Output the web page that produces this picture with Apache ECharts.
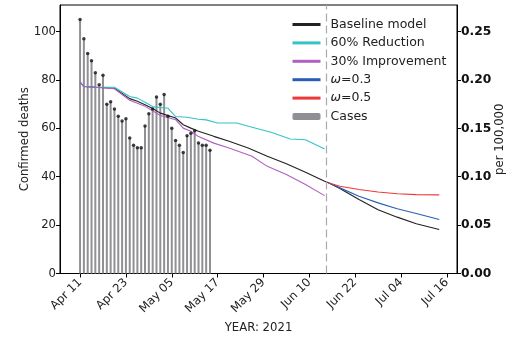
<!DOCTYPE html>
<html><head><meta charset="utf-8">
<script src="https://cdn.jsdelivr.net/npm/echarts@6/dist/echarts.min.js"></script>
<style>html,body{margin:0;padding:0;background:#fff}#c{width:523px;height:339px}</style>
</head><body><div id="c"></div>
<script>
// ---- data ----
const caseDates = ['2021-04-11','2021-04-12','2021-04-13','2021-04-14','2021-04-15','2021-04-16','2021-04-17',
  '2021-04-18','2021-04-19','2021-04-20','2021-04-21','2021-04-22','2021-04-23','2021-04-24','2021-04-25',
  '2021-04-26','2021-04-27','2021-04-28','2021-04-29','2021-04-30','2021-05-01','2021-05-02','2021-05-03',
  '2021-05-04','2021-05-05','2021-05-06','2021-05-07','2021-05-08','2021-05-09','2021-05-10','2021-05-11',
  '2021-05-12','2021-05-13','2021-05-14','2021-05-15'];
const caseValues = [105, 97, 91, 88, 83, 78, 82, 70, 71, 68, 65, 63, 64, 56, 53, 52, 52, 61, 66, 68,
  73, 70, 74, 65, 60, 55, 53, 50, 57, 58, 59, 54, 53, 53, 51];

const baselineDates = ['2021-04-11','2021-04-12','2021-04-15','2021-04-20','2021-04-24','2021-04-26','2021-04-28',
  '2021-04-30','2021-05-02','2021-05-06','2021-05-08','2021-05-10','2021-05-12','2021-05-16','2021-05-20',
  '2021-05-25','2021-05-30','2021-06-04','2021-06-09','2021-06-14','2021-06-15','2021-06-18','2021-06-23',
  '2021-06-28','2021-07-03','2021-07-08','2021-07-14'];
const baselineValues = [79.1, 77.3, 77.0, 76.6, 72.3, 71.2, 69.8, 68.2, 66.3, 64.3, 61.5, 60.1, 58.8, 56.7, 54.7,
  51.9, 48.5, 45.4, 41.9, 38.1, 37.5, 35.1, 30.6, 26.4, 23.3, 20.6, 18.2];

const reductionDates = ['2021-04-11','2021-04-12','2021-04-15','2021-04-20','2021-04-24','2021-04-26','2021-04-28',
  '2021-04-30','2021-05-03','2021-05-04','2021-05-06','2021-05-09','2021-05-12','2021-05-14','2021-05-17',
  '2021-05-22','2021-05-26','2021-05-31','2021-06-05','2021-06-09','2021-06-14'];
const reductionValues = [79.1, 77.3, 77.0, 77.0, 73.2, 72.5, 70.8, 69.0, 68.4, 68.4, 64.9, 64.6, 63.8, 63.5, 62.2,
  62.2, 60.5, 58.4, 55.6, 55.3, 51.5];

const improvementDates = ['2021-04-11','2021-04-12','2021-04-15','2021-04-20','2021-04-24','2021-04-28','2021-04-30',
  '2021-05-02','2021-05-06','2021-05-08','2021-05-10','2021-05-12','2021-05-16','2021-05-20','2021-05-26',
  '2021-05-30','2021-06-04','2021-06-09','2021-06-14'];
const improvementValues = [79.1, 77.3, 77.0, 76.4, 71.6, 69.1, 67.3, 65.3, 63.6, 60.1, 58.8, 56.6, 53.9, 51.9, 48.5,
  44.3, 40.9, 36.8, 32.2];

const omegaDates = ['2021-06-15','2021-06-18','2021-06-23','2021-06-28','2021-07-03','2021-07-08','2021-07-14'];
const omega03Values = [37.5, 35.4, 31.9, 29.2, 26.8, 24.8, 22.3];
const omega05Values = [37.5, 36.1, 34.7, 33.7, 33.0, 32.6, 32.5];

const xTickDates = ['2021-04-11','2021-04-23','2021-05-05','2021-05-17','2021-05-29','2021-06-10',
  '2021-06-22','2021-07-04','2021-07-16'];
const leftTicks = [0, 20, 40, 60, 80, 100];
const rightTicks = [0, 0.05, 0.10, 0.15, 0.20, 0.25];
const splitDate = '2021-06-14T12:00:00';
const perPopFactor = 400; // deaths per (per 100,000)
const legendNames = ['Baseline model', '60% Reduction', '30% Improvement', 'ω=0.3', 'ω=0.5', 'Cases'];

// ---- helpers ----
const DAY = 86400000;
const ts = s => Date.parse(s.length === 10 ? s + 'T00:00:00Z' : s + 'Z');
const pairs = (d, v) => d.map((s, i) => [ts(s), v[i]]);
const MON = ['Jan','Feb','Mar','Apr','May','Jun','Jul','Aug','Sep','Oct','Nov','Dec'];
const fmtDate = v => { const d = new Date(v); return MON[d.getUTCMonth()] + ' ' + String(d.getUTCDate()).padStart(2, '0'); };

const FONT = 'DejaVu Sans';
const yMax = 111;
const xMin = ts('2021-04-11') - 5.25 * DAY;
const xMax = ts('2021-07-16') + 2.65 * DAY;

const lineSeries = (name, d, v, color) => ({
  name, type: 'line', data: pairs(d, v), symbol: 'none', showSymbol: false,
  lineStyle: { color, width: 1.1 }, itemStyle: { color }, z: 3, silent: true
});

const chart = echarts.init(document.getElementById('c'), null, { renderer: 'canvas' });
chart.setOption({
  animation: false,
  backgroundColor: '#fff',
  textStyle: { fontFamily: FONT },
  grid: { left: 60, right: 66, top: 5, bottom: 65, show: true, borderColor: '#000', borderWidth: 1, backgroundColor: 'transparent' },
  xAxis: {
    type: 'value', min: xMin, max: xMax,
    name: 'YEAR: 2021', nameLocation: 'middle', nameGap: 45,
    nameTextStyle: { fontSize: 11.7, color: '#222', fontFamily: FONT },
    axisLine: { show: true, lineStyle: { color: '#000', width: 1 } },
    axisTick: { show: true, length: 4, lineStyle: { color: '#000' }, customValues: xTickDates.map(ts) },
    axisLabel: { customValues: xTickDates.map(ts), formatter: fmtDate, rotate: 45, fontSize: 11.7, color: '#222', margin: 7, fontFamily: FONT },
    splitLine: { show: false }
  },
  yAxis: [{
    type: 'value', min: 0, max: yMax, position: 'left',
    name: 'Confirmed deaths', nameLocation: 'middle', nameGap: 29, nameMoveOverlap: false,
    nameTextStyle: { fontSize: 11.7, color: '#222', fontFamily: FONT },
    axisLine: { show: true, lineStyle: { color: '#000' } },
    axisTick: { show: true, length: 4, lineStyle: { color: '#000' }, customValues: leftTicks },
    axisLabel: { customValues: leftTicks, fontSize: 11.7, color: '#222', margin: 4, fontFamily: FONT },
    splitLine: { show: false }
  }, {
    type: 'value', min: 0, max: yMax / perPopFactor, position: 'right',
    name: 'per 100,000', nameLocation: 'middle', nameGap: 37, nameRotate: 90, nameMoveOverlap: false,
    nameTextStyle: { fontSize: 11.7, color: '#222', fontFamily: FONT },
    axisLine: { show: true, lineStyle: { color: '#000' } },
    axisTick: { show: true, length: 4, lineStyle: { color: '#000' }, customValues: rightTicks },
    axisLabel: { customValues: rightTicks, formatter: v => v.toFixed(2), fontSize: 12.3, fontWeight: 'bold', color: '#111', margin: 4, fontFamily: FONT },
    splitLine: { show: false }
  }],
  legend: {
    orient: 'vertical', left: 287, top: 14, padding: [4, 4, 4, 4],
    backgroundColor: 'rgba(255,255,255,0.8)',
    itemWidth: 28, itemHeight: 7, itemGap: 5.4,
    lineStyle: { width: 3 },
    data: legendNames.map(n => n === 'Cases' ? { name: n } : { name: n, itemStyle: { opacity: 0 } }),
    formatter: n => n.startsWith('ω') ? '{i|ω}' + n.slice(1) : n,
    textStyle: { fontSize: 12.5, color: '#222', fontFamily: FONT, lineHeight: 13, padding: [0, 0, 0, 5],
      rich: { i: { fontStyle: 'italic', fontSize: 12.5, fontFamily: FONT, color: '#222' } } }
  },
  series: [
    { name: 'Cases', type: 'bar', data: pairs(caseDates, caseValues), barWidth: 2,
      itemStyle: { color: '#909094' }, z: 2, silent: true,
      markLine: { silent: true, symbol: ['none', 'none'], label: { show: false },
        lineStyle: { color: '#aaaaaa', type: [8, 4], width: 1.2 },
        data: [{ xAxis: ts(splitDate) }] } },
    { name: '_dots', type: 'scatter', data: pairs(caseDates, caseValues), symbolSize: 3.5,
      itemStyle: { color: '#111' }, z: 4, silent: true },
    lineSeries('Baseline model', baselineDates, baselineValues, '#222222'),
    lineSeries('60% Reduction', reductionDates, reductionValues, '#35c4c4'),
    lineSeries('30% Improvement', improvementDates, improvementValues, '#b060c0'),
    lineSeries('ω=0.3', omegaDates, omega03Values, '#2a5cb8'),
    lineSeries('ω=0.5', omegaDates, omega05Values, '#ee3838')
  ]
});
</script>
</body></html>
